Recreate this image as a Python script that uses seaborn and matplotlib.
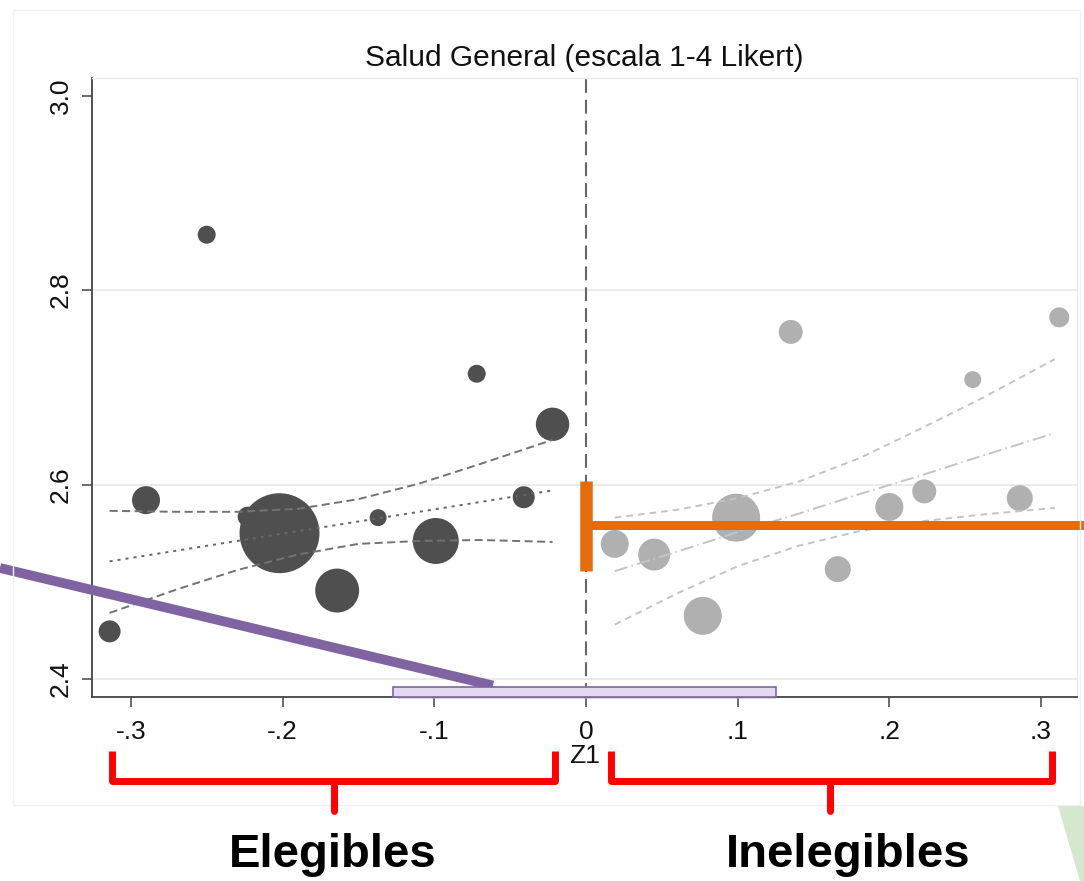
import numpy as np
import pandas as pd
import seaborn as sns
import matplotlib.pyplot as plt
from matplotlib.lines import Line2D
from matplotlib.patches import Rectangle, Polygon

# bins a la izquierda del corte (elegibles)
z_eleg = [-0.314, -0.290, -0.250, -0.223, -0.202, -0.164, -0.137, -0.099, -0.072, -0.041, -0.022]
salud_eleg = [2.449, 2.584, 2.857, 2.567, 2.550, 2.491, 2.566, 2.542, 2.714, 2.587, 2.662]
peso_eleg = [121, 196, 81, 100, 1600, 484, 72, 529, 81, 121, 279]

# bins a la derecha del corte (inelegibles)
z_ineleg = [0.019, 0.045, 0.077, 0.099, 0.135, 0.166, 0.200, 0.223, 0.255, 0.286, 0.312]
salud_ineleg = [2.539, 2.528, 2.465, 2.566, 2.757, 2.513, 2.577, 2.593, 2.708, 2.586, 2.772]
peso_ineleg = [196, 256, 361, 576, 144, 169, 196, 144, 72, 169, 100]

# ajuste lineal e intervalo de confianza
zfit_eleg = [-0.314, -0.27, -0.23, -0.19, -0.15, -0.11, -0.07, -0.022]
fit_eleg = [2.521, 2.532, 2.542, 2.552, 2.562, 2.572, 2.582, 2.594]
sup_eleg = [2.573, 2.572, 2.572, 2.575, 2.585, 2.601, 2.621, 2.646]
inf_eleg = [2.468, 2.492, 2.512, 2.528, 2.539, 2.542, 2.543, 2.541]

zfit_ineleg = [0.019, 0.06, 0.10, 0.14, 0.18, 0.22, 0.26, 0.309]
fit_ineleg = [2.511, 2.531, 2.551, 2.570, 2.590, 2.609, 2.629, 2.653]
sup_ineleg = [2.566, 2.574, 2.586, 2.603, 2.627, 2.657, 2.688, 2.729]
inf_ineleg = [2.456, 2.488, 2.516, 2.537, 2.552, 2.562, 2.569, 2.576]

# efecto en el corte
efecto_ci = [2.511, 2.604]
efecto = 2.558

xticks = [-0.3, -0.2, -0.1, 0, 0.1, 0.2, 0.3]
xlabels = ["-.3", "-.2", "-.1", "0", ".1", ".2", ".3"]
yticks = [2.4, 2.6, 2.8, 3.0]
ylabels = ["2.4", "2.6", "2.8", "3.0"]

sns.set_theme(style="white")
plt.rcParams['font.family'] = ['Liberation Sans', 'DejaVu Sans']
plt.rcParams['lines.scale_dashes'] = False

W, H = 1084, 881
fig = plt.figure(figsize=(W / 100, H / 100), dpi=100)
fig.patch.set_facecolor("white")

def fx(px):
    return px / W

def fy(py):
    return 1 - py / H

# marco tenue del grafico
fig.add_artist(Rectangle((fx(13), fy(805)), fx(1080) - fx(13), fy(10) - fy(805),
                         transform=fig.transFigure, fill=False, edgecolor="#f0f0f0", lw=1))

ax = fig.add_axes([fx(92), fy(697.3), fx(1077) - fx(92), fy(78) - fy(697.3)])
ax.set_xlim(-0.3256, 0.3237)
ax.set_ylim(2.3812, 3.0182)

for yv in [2.4, 2.6, 2.8]:
    ax.axhline(yv, color="#e9e9e9", lw=1.3, zorder=0)

df_e = pd.DataFrame({"z": z_eleg, "salud": salud_eleg, "peso": peso_eleg})
df_i = pd.DataFrame({"z": z_ineleg, "salud": salud_ineleg, "peso": peso_ineleg})
k = 2.07
for df, col in [(df_e, "#4f4f4f"), (df_i, "#b0b0b0")]:
    lo, hi = min(df["peso"]), max(df["peso"])
    sns.scatterplot(data=df, x="z", y="salud", size="peso", sizes=(k * lo, k * hi),
                    size_norm=(lo, hi), color=col, linewidth=0, legend=False, ax=ax, zorder=3)

lw = 1.4
sns.lineplot(x=zfit_eleg, y=sup_eleg, ax=ax, color="#727272", lw=lw, linestyle=(0, (5.8, 3.2)), errorbar=None, zorder=4)
sns.lineplot(x=zfit_eleg, y=inf_eleg, ax=ax, color="#727272", lw=lw, linestyle=(0, (5.8, 3.2)), errorbar=None, zorder=4)
sns.lineplot(x=zfit_eleg, y=fit_eleg, ax=ax, color="#666666", lw=lw, linestyle=(0, (2.2, 3.6)), errorbar=None, zorder=4)
sns.lineplot(x=zfit_ineleg, y=sup_ineleg, ax=ax, color="#c4c4c4", lw=lw, linestyle=(0, (4.8, 3.6)), errorbar=None, zorder=4)
sns.lineplot(x=zfit_ineleg, y=inf_ineleg, ax=ax, color="#c4c4c4", lw=lw, linestyle=(0, (4.8, 3.6)), errorbar=None, zorder=4)
sns.lineplot(x=zfit_ineleg, y=fit_ineleg, ax=ax, color="#c4c4c4", lw=lw, linestyle=(0, (9.6, 3, 1, 3)), errorbar=None, zorder=4)

ax.axvline(0, color="#666666", lw=1.5, linestyle=(0, (10, 5)), zorder=2)

# spines estilo Stata
for s in ["left", "bottom"]:
    ax.spines[s].set_color("#444444")
    ax.spines[s].set_linewidth(1.3)
for s in ["top", "right"]:
    ax.spines[s].set_color("#ececec")
    ax.spines[s].set_linewidth(1.0)

ax.set_xticks(xticks)
ax.set_xticklabels(xlabels)
ax.set_yticks(yticks)
ax.set_yticklabels(ylabels, rotation=90, va="center")
ax.tick_params(axis="both", direction="out", length=7, width=1.1, color="#444444",
               labelsize=19, labelcolor="#111111", bottom=True, left=True)
ax.tick_params(axis="x", pad=9)
ax.tick_params(axis="y", pad=7)
ax.set_xlabel("Z1", fontsize=19, color="#111111", labelpad=0)
ax.set_ylabel("")
ax.set_title("Salud General (escala 1-4 Likert)", fontsize=21.5, color="#111111", pad=9)

# efecto estimado en el corte (naranja)
naranja = "#e46c0a"
ax.plot([0, 0], efecto_ci, color=naranja, lw=9, solid_capstyle="butt", zorder=6, clip_on=False)
ax.plot([0.003, 0.33], [efecto, efecto], color=naranja, lw=6.5, solid_capstyle="butt", zorder=6, clip_on=False)

# flecha morada hacia el ancho de banda
morado = "#8064a2"
ax.plot([-0.3863, -0.0613], [2.5142, 2.3933], color=morado, lw=7, solid_capstyle="butt", zorder=7, clip_on=False)
ax.add_patch(Rectangle((-0.1242, 2.3795), 0.2494, 0.0109, facecolor="#b0b0b0", edgecolor="none",
                       alpha=0.5, zorder=7, clip_on=False))
ax.add_patch(Rectangle((-0.1272, 2.3812), 0.2524, 0.0109, facecolor="#e3d9f0", edgecolor=morado,
                       lw=1.2, zorder=8, clip_on=False))

# llaves rojas
rojo = "#ff0000"
for x0, x1, xm in [(112, 555, 334), (611, 1052, 830)]:
    fig.add_artist(Line2D([fx(x0), fx(x0), fx(x1), fx(x1)], [fy(751), fy(781), fy(781), fy(751)],
                          transform=fig.transFigure, color=rojo, lw=5, solid_joinstyle="round",
                          solid_capstyle="butt"))
    fig.add_artist(Line2D([fx(xm), fx(xm)], [fy(781), fy(811)], transform=fig.transFigure,
                          color=rojo, lw=5, solid_capstyle="round"))

fig.text(fx(333), fy(855), "Elegibles", fontsize=34, fontweight="bold", ha="center", va="center", color="black")
fig.text(fx(848), fy(855), "Inelegibles", fontsize=34, fontweight="bold", ha="center", va="center", color="black")

# triangulo verde decorativo
fig.add_artist(Polygon([(fx(1058), fy(806)), (fx(1084), fy(806)), (fx(1084), fy(881)), (fx(1080), fy(881))],
                       closed=True, transform=fig.transFigure, facecolor="#d5e8cf", edgecolor="none"))

fig.savefig("out.png", dpi=100)
